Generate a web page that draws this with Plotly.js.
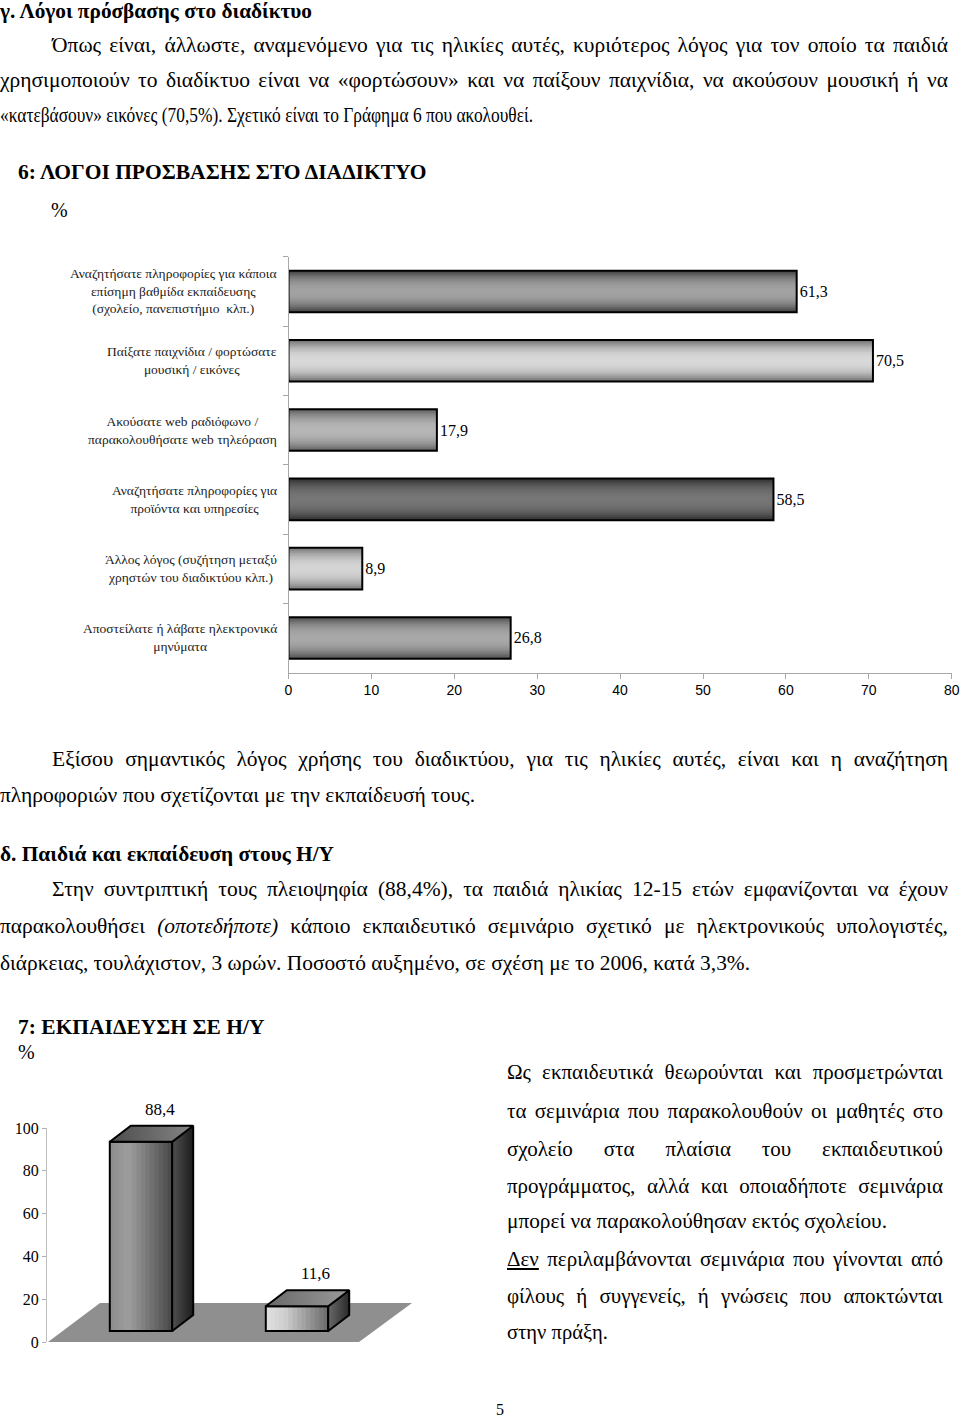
<!DOCTYPE html>
<html><head><meta charset="utf-8">
<script src="https://cdn.plot.ly/plotly-3.0.1.min.js"></script>
<style>
html,body{margin:0;padding:0;background:#fff;}
#page{position:relative;width:960px;height:1419px;overflow:hidden;background:#fff;}
#plot{position:absolute;left:0;top:0;width:960px;height:1419px;}
#txt{position:absolute;left:0;top:0;width:960px;height:1419px;pointer-events:none;}
.ln{position:absolute;white-space:nowrap;font-family:"Liberation Serif","Times New Roman",serif;color:#000;line-height:1;transform-origin:0 50%;}
</style></head>
<body><div id="page"><div id="plot"></div><div id="txt"></div></div>
<script>
// ---------------- DATA ----------------
// Chart 6: reasons for internet access (%)
const reasonLabels = [
  'Αναζητήσατε πληροφορίες για κάποια<br>επίσημη βαθμίδα εκπαίδευσης<br>(σχολείο, πανεπιστήμιο  κλπ.)',
  'Παίξατε παιχνίδια / φορτώσατε<br>μουσική / εικόνες',
  'Ακούσατε web ραδιόφωνο /<br>παρακολουθήσατε web τηλεόραση',
  'Αναζητήσατε πληροφορίες για<br>προϊόντα και υπηρεσίες',
  'Άλλος λόγος (συζήτηση μεταξύ<br>χρηστών του διαδικτύου κλπ.)',
  'Αποστείλατε ή λάβατε ηλεκτρονικά<br>μηνύματα'
];
const reasonValues = [61.3, 70.5, 17.9, 58.5, 8.9, 26.8];
const reasonTicks = [0, 10, 20, 30, 40, 50, 60, 70, 80];

// Chart 7: computer training (%)
const trainingCategories = ['Ναι', 'Όχι'];
const trainingValues = [88.4, 11.6];
const trainingTicks = [0, 20, 40, 60, 80, 100];

// ---------------- STYLES ----------------
const reasonEdge   = ['#3c3c3c', '#6c6c6c', '#5a5a5a', '#2c2c2c', '#727272', '#4a4a4a'];
const reasonCenter = ['#a2a2a2', '#d8d8d8', '#b6b6b6', '#767676', '#d4d4d4', '#a8a8a8'];
const trainFront = [
  [[0, '#8c8c8c'], [0.3, '#9e9e9e'], [1, '#484848']],
  [[0, '#e0e0e0'], [0.3, '#cfcfcf'], [1, '#6a6a6a']]
];
const trainTop  = [[[0, '#4c4c4c'], [1, '#858585']], [[0, '#686868'], [1, '#9a9a9a']]];
const trainSide = [[[0, '#505050'], [1, '#1c1c1c']], [[0, '#686868'], [1, '#2a2a2a']]];

const SERIF = 'Liberation Serif, Times New Roman, serif';
const SANS = 'Liberation Sans, Arial, sans-serif';
const W = 960, H = 1419;
const fx = p => p / W, fy = p => 1 - p / H;

function hex2rgb(h) { h = h.replace('#', ''); return [0, 2, 4].map(i => parseInt(h.substr(i, 2), 16)); }
function mix(a, b, t) { const A = hex2rgb(a), B = hex2rgb(b); return 'rgb(' + A.map((v, i) => Math.round(v + (B[i] - v) * t)).join(',') + ')'; }
function ramp(stops, t) {
  for (let j = 1; j < stops.length; j++) {
    if (t <= stops[j][0]) { const s = stops[j - 1], e = stops[j]; return mix(s[1], e[1], (t - s[0]) / (e[0] - s[0])); }
  }
  const l = stops[stops.length - 1][1]; return mix(l, l, 0);
}

const traces = [];
const annotations = [];

// ---------------- CHART 6 ----------------
const BW1 = 0.6, N1 = 12;
for (let k = 0; k < N1; k++) {
  const t = (k + 0.5) / N1;
  const f = 1 - Math.pow(1 - t, 2.2);
  traces.push({
    type: 'bar', orientation: 'h', xaxis: 'x', yaxis: 'y',
    y: reasonLabels, x: reasonValues, width: BW1 * (1 - k / N1),
    marker: { color: reasonEdge.map((e, i) => mix(e, reasonCenter[i], f)), line: { width: 0 } },
    hoverinfo: 'skip', showlegend: false
  });
}
traces.push({
  type: 'bar', orientation: 'h', xaxis: 'x', yaxis: 'y',
  y: reasonLabels, x: reasonValues, width: BW1,
  marker: { color: 'rgba(0,0,0,0)', line: { color: '#000', width: 2 } },
  texttemplate: '%{x:.1f}', textposition: 'outside', constraintext: 'none', cliponaxis: false,
  textfont: { family: SERIF, size: 16, color: '#000' },
  hoverinfo: 'skip', showlegend: false
});
reasonLabels.forEach(lab => annotations.push({
  xref: 'paper', yref: 'y', x: fx(279), y: lab, xanchor: 'right', yanchor: 'middle',
  text: lab, align: 'center', showarrow: false, font: { family: SERIF, size: 13.5, color: '#222' }
}));

// ---------------- CHART 7 ----------------
const pxX2 = 156, cx0 = 141;       // pixel of category 0 centre, pixels per category
const pxY = 2.14, zero2 = 1342, base3 = 1331;   // pixels per %, pixel of axis zero, pixel of bar base
const BW2 = 0.4, N2 = 14;
const dX = 21 / pxX2, dY = 16 / pxY;
const xPos = trainingCategories.map((c, i) => i);
const ux = p => (p - cx0) / pxX2, uy2 = p => (zero2 - p) / pxY;

// floor of the 3-D chart (on the visible axis pair)
traces.push({
  type: 'scatter', mode: 'lines', xaxis: 'x2', yaxis: 'y2',
  x: [ux(48), ux(359), ux(412), ux(100), ux(48)], y: [uy2(1342), uy2(1342), uy2(1303), uy2(1303), uy2(1342)],
  fill: 'toself', fillcolor: '#8f8f8f', line: { width: 0, color: 'rgba(0,0,0,0)' },
  hoverinfo: 'skip', showlegend: false, cliponaxis: false
});
for (let k = 0; k < N2; k++) {
  const t = (k + 0.5) / N2;
  traces.push({
    type: 'bar', xaxis: 'x2', yaxis: 'y3',
    x: xPos, y: trainingValues, base: 0,
    width: BW2 * (1 - k / N2), offset: -BW2 / 2 + BW2 * k / N2,
    marker: { color: trainFront.map(s => ramp(s, t)), line: { width: 0 } },
    hoverinfo: 'skip', showlegend: false
  });
}
trainingValues.forEach((v, i) => {
  const l = i - BW2 / 2, r = i + BW2 / 2;
  traces.push({
    type: 'scatter', mode: 'lines', xaxis: 'x2', yaxis: 'y3',
    x: [r, r + dX, r + dX, r, r], y: [0, dY, v + dY, v, 0],
    fill: 'toself', fillgradient: { type: 'horizontal', colorscale: trainSide[i] },
    line: { color: '#000', width: 2 }, hoverinfo: 'skip', showlegend: false
  });
  traces.push({
    type: 'scatter', mode: 'lines', xaxis: 'x2', yaxis: 'y3',
    x: [l, r, r + dX, l + dX, l], y: [v, v, v + dY, v + dY, v],
    fill: 'toself', fillgradient: { type: 'horizontal', colorscale: trainTop[i] },
    line: { color: '#000', width: 2 }, hoverinfo: 'skip', showlegend: false
  });
  annotations.push({
    xref: 'x2', yref: 'y3', x: i + 0.12, y: v + dY, yanchor: 'bottom', yshift: 5,
    text: v.toFixed(1).replace('.', ','), showarrow: false,
    font: { family: SERIF, size: 17, color: '#000' }
  });
});
traces.push({
  type: 'bar', xaxis: 'x2', yaxis: 'y3', x: xPos, y: trainingValues, base: 0, width: BW2,
  marker: { color: 'rgba(0,0,0,0)', line: { color: '#000', width: 2 } },
  hoverinfo: 'skip', showlegend: false
});

// titles
annotations.push(
  { xref: 'paper', yref: 'paper', x: fx(16), y: fy(172), xanchor: 'left', yanchor: 'middle', showarrow: false,
    text: '<b>6: ΛΟΓΟΙ ΠΡΟΣΒΑΣΗΣ ΣΤΟ ΔΙΑΔΙΚΤΥΟ</b>', font: { family: SERIF, size: 21.5, color: '#000' } },
  { xref: 'paper', yref: 'paper', x: fx(49), y: fy(210), xanchor: 'left', yanchor: 'middle', showarrow: false,
    text: '%', font: { family: SERIF, size: 20, color: '#000' } },
  { xref: 'paper', yref: 'paper', x: fx(16), y: fy(1027), xanchor: 'left', yanchor: 'middle', showarrow: false,
    text: '<b>7: ΕΚΠΑΙΔΕΥΣΗ ΣΕ Η/Υ</b>', font: { family: SERIF, size: 21.5, color: '#000' } },
  { xref: 'paper', yref: 'paper', x: fx(16), y: fy(1052), xanchor: 'left', yanchor: 'middle', showarrow: false,
    text: '%', font: { family: SERIF, size: 20, color: '#000' } },
  { xref: 'paper', yref: 'paper', x: fx(500), y: fy(1409), xanchor: 'center', yanchor: 'middle', showarrow: false,
    text: '5', font: { family: SERIF, size: 16, color: '#000' } }
);

const layout = {
  width: W, height: H, margin: { l: 0, r: 0, t: 0, b: 0 },
  paper_bgcolor: 'rgba(0,0,0,0)', plot_bgcolor: 'rgba(0,0,0,0)',
  showlegend: false, barmode: 'overlay', separators: ',.',
  xaxis: {
    domain: [fx(288.5), fx(951.7)], range: [0, 80], anchor: 'y',
    tickvals: reasonTicks, ticks: 'outside', ticklen: 5, tickcolor: '#a8a8a8',
    showline: true, linecolor: '#a8a8a8', linewidth: 1, showgrid: false, zeroline: false,
    tickfont: { family: SANS, size: 14, color: '#000' }
  },
  yaxis: {
    domain: [fy(672.6), fy(256.8)], type: 'category', categoryorder: 'array', categoryarray: reasonLabels,
    autorange: 'reversed', anchor: 'x', tickson: 'boundaries', ticks: 'outside', ticklen: 5,
    tickcolor: '#a8a8a8', showline: true, linecolor: '#a8a8a8', showticklabels: false, showgrid: false
  },
  xaxis2: {
    domain: [fx(47), fx(470)], range: [ux(47), ux(470)], anchor: 'y2',
    showline: false, showticklabels: false, ticks: '', showgrid: false, zeroline: false
  },
  yaxis2: {
    domain: [fy(zero2), fy(zero2 - 100 * pxY)], range: [0, 100], anchor: 'x2',
    tickvals: trainingTicks, ticks: 'outside', ticklen: 4, tickcolor: '#b0b0b0',
    showline: true, linecolor: '#c0c0c0', showgrid: false, zeroline: false,
    tickfont: { family: SERIF, size: 16, color: '#000' }
  },
  yaxis3: {
    domain: [fy(base3 + 10 * pxY), fy(base3 - 110 * pxY)], range: [-10, 110], anchor: 'x2',
    showline: false, showticklabels: false, ticks: '', showgrid: false, zeroline: false
  },
  annotations: annotations
};

Plotly.newPlot('plot', traces, layout, { staticPlot: true, displayModeBar: false });

// ---------------- BODY TEXT ----------------
const FS = 21.5;
const lines = [
  { h: 'γ. Λόγοι πρόσβασης στο διαδίκτυο', x: 0, y: 13, w: 312, b: 1, s: FS },
  { h: 'Όπως είναι, άλλωστε, αναμενόμενο για τις ηλικίες αυτές, κυριότερος λόγος για τον οποίο τα παιδιά', x: 52, y: 47, w: 896, j: 1, s: FS },
  { h: 'χρησιμοποιούν το διαδίκτυο είναι να «φορτώσουν» και να παίξουν παιχνίδια, να ακούσουν μουσική ή να', x: 0, y: 82, w: 948, j: 1, s: FS },
  { h: '«κατεβάσουν» εικόνες (70,5%). Σχετικό είναι το Γράφημα 6 που ακολουθεί.', x: 0, y: 117, w: 533, s: FS },
  { h: 'Εξίσου σημαντικός λόγος χρήσης του διαδικτύου, για τις ηλικίες αυτές, είναι και η αναζήτηση', x: 52, y: 761, w: 896, j: 1, s: FS },
  { h: 'πληροφοριών που σχετίζονται με την εκπαίδευσή τους.', x: 0, y: 797, w: 475, s: FS },
  { h: 'δ. Παιδιά και εκπαίδευση στους Η/Υ', x: 0, y: 856, w: 334, b: 1, s: FS },
  { h: 'Στην συντριπτική τους πλειοψηφία (88,4%), τα παιδιά ηλικίας 12-15 ετών εμφανίζονται να έχουν', x: 52, y: 891, w: 896, j: 1, s: FS },
  { h: 'παρακολουθήσει <i>(οποτεδήποτε)</i> κάποιο εκπαιδευτικό σεμινάριο σχετικό με ηλεκτρονικούς υπολογιστές,', x: 0, y: 928, w: 948, j: 1, s: FS },
  { h: 'διάρκειας, τουλάχιστον, 3 ωρών. Ποσοστό αυξημένο, σε σχέση με το 2006, κατά 3,3%.', x: 0, y: 965, w: 750, s: FS },
  { h: 'Ως εκπαιδευτικά θεωρούνται και προσμετρώνται', x: 507, y: 1074, w: 436, j: 1, s: 21 },
  { h: 'τα σεμινάρια που παρακολουθούν οι μαθητές στο', x: 507, y: 1113, w: 436, j: 1, s: 21 },
  { h: 'σχολείο στα πλαίσια του εκπαιδευτικού', x: 507, y: 1151, w: 436, j: 1, s: 21 },
  { h: 'προγράμματος, αλλά και οποιαδήποτε σεμινάρια', x: 507, y: 1188, w: 436, j: 1, s: 21 },
  { h: 'μπορεί να παρακολούθησαν εκτός σχολείου.', x: 507, y: 1223, w: 380, s: 21 },
  { h: '<u>Δεν</u> περιλαμβάνονται σεμινάρια που γίνονται από', x: 507, y: 1261, w: 436, j: 1, s: 21 },
  { h: 'φίλους ή συγγενείς, ή γνώσεις που αποκτώνται', x: 507, y: 1298, w: 436, j: 1, s: 21 },
  { h: 'στην πράξη.', x: 507, y: 1334, w: 101, s: 21 }
];
const txt = document.getElementById('txt');
lines.forEach(L => {
  const d = document.createElement('div');
  d.className = 'ln';
  d.innerHTML = L.h;
  d.style.fontSize = L.s + 'px';
  d.style.left = L.x + 'px';
  d.style.top = (L.y - L.s * 0.56) + 'px';
  if (L.b) d.style.fontWeight = 'bold';
  txt.appendChild(d);
  const nat = d.getBoundingClientRect().width;
  if (L.j && nat <= L.w) {
    d.style.width = L.w + 'px';
    d.style.textAlign = 'justify';
    d.style.textAlignLast = 'justify';
  } else {
    d.style.transform = 'scaleX(' + (L.w / nat).toFixed(4) + ')';
  }
});
</script>
</body></html>
